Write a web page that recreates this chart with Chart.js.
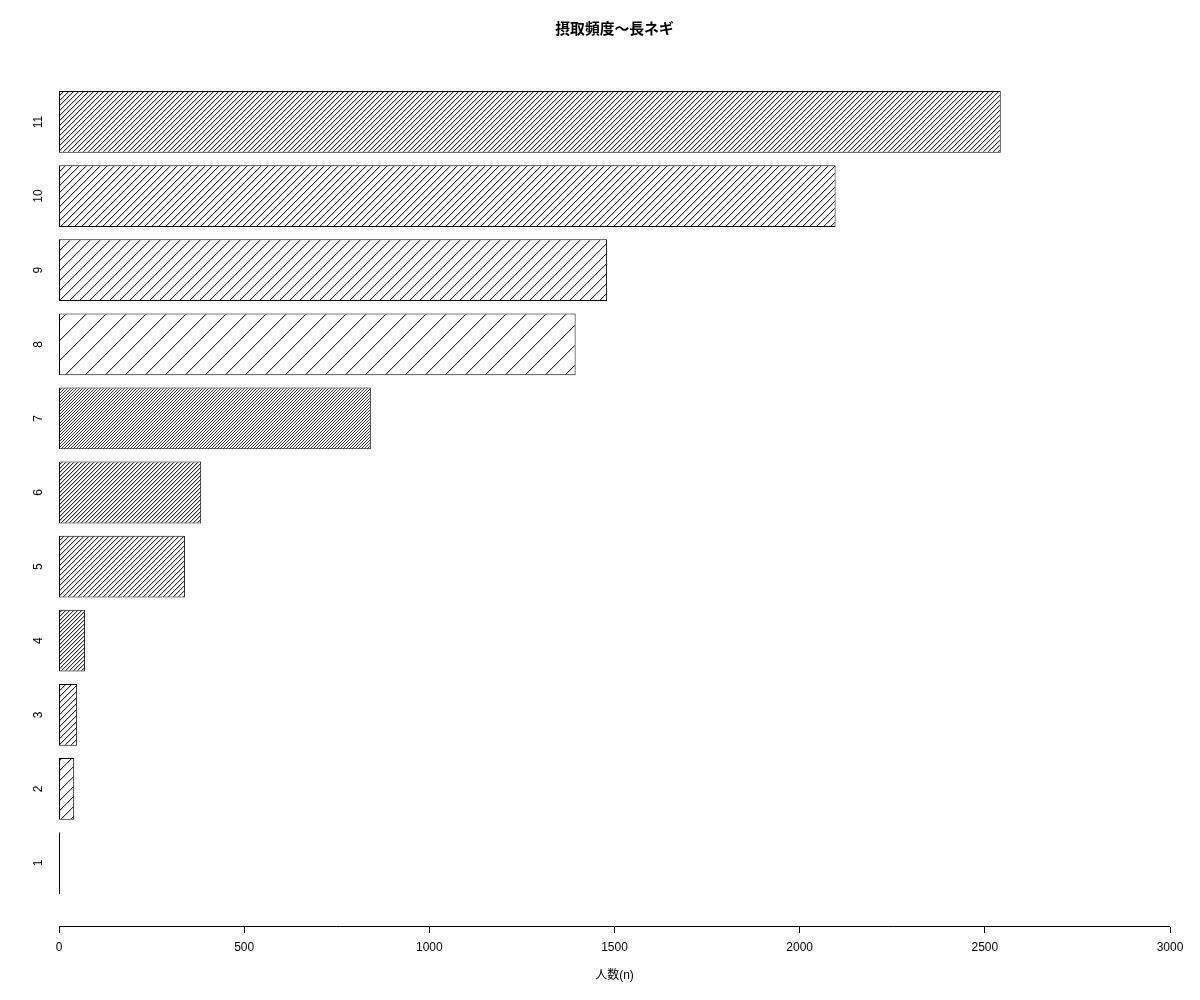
<!DOCTYPE html>
<html lang="ja">
<head>
  <meta charset="UTF-8">
  <title>摂取頻度〜長ネギ</title>
  <script src="https://cdn.jsdelivr.net/npm/chart.js"></script>
  <style>
    html, body {
      margin: 0;
      padding: 0;
      background: #ffffff;
    }
    #chart {
      display: block;
    }
  </style>
</head>
<body>
  <canvas id="chart" width="1200" height="1000"></canvas>

  <script>
    // Data
    const categories = ['1', '2', '3', '4', '5', '6', '7', '8', '9', '10', '11'];
    const counts = [1, 41, 49, 70, 340, 384, 842, 1395, 1480, 2097, 2543];
    const xTicks = [0, 500, 1000, 1500, 2000, 2500, 3000];

    const titleText = '摂取頻度〜長ネギ';
    const xLabel = '人数(n)';

    // hatch spacing (horizontal px between lines) per bar, bottom to top
    const hatchGap = [10, 10, 6, 4, 5, 4, 3, 20, 10, 7, 5];

    // barplot style layout: bar width 1, space 0.2
    const barWidth = 1;
    const barSpace = 0.2;
    const positions = categories.map((c, i) => barSpace + i * (barWidth + barSpace) + barWidth / 2);
    const yLow = barSpace;
    const yHigh = categories.length * (barWidth + barSpace);
    const yPad = (yHigh - yLow) * 0.04;

    // pixel staircase hatching, lines going up to the right
    function hatch(gap) {
      const c = document.createElement('canvas');
      c.width = gap;
      c.height = gap;
      const g = c.getContext('2d');
      const img = g.createImageData(gap, gap);
      for (let y = 0; y < gap; y++) {
        for (let x = 0; x < gap; x++) {
          const k = (y * gap + x) * 4;
          const r = (x + y) % gap;
          let v = 255;
          if (r === gap - 1) v = 50;
          else if (r === 0 && gap > 3) v = 200;
          img.data[k] = v;
          img.data[k + 1] = v;
          img.data[k + 2] = v;
          img.data[k + 3] = 255;
        }
      }
      g.putImageData(img, 0, 0);
      return g.createPattern(c, 'repeat');
    }
    const patterns = hatchGap.map(hatch);

    const font = "'Liberation Sans', Arial, sans-serif";
    const cjkFont = "'Liberation Sans', 'Noto Sans CJK JP', sans-serif";

    // title, rotated category names and the tick mark at zero
    const labelsPlugin = {
      id: 'labels',
      afterDraw(chart) {
        const ctx = chart.ctx;
        const xScale = chart.scales.x;
        const yScale = chart.scales.y;
        ctx.save();
        ctx.fillStyle = '#000000';
        ctx.font = `bold 14.8px ${cjkFont}`;
        ctx.textAlign = 'center';
        ctx.textBaseline = 'middle';
        ctx.fillText(titleText, (chart.chartArea.left + chart.chartArea.right) / 2, 30);

        ctx.font = `12px ${font}`;
        categories.forEach((name, i) => {
          const y = yScale.getPixelForValue(positions[i]);
          ctx.save();
          ctx.translate(38.5, y);
          ctx.rotate(-Math.PI / 2);
          ctx.fillText(name, 0, 0);
          ctx.restore();
        });

        // zero tick is hidden in the grid so the bars start flush at the axis
        const x0 = Math.round(xScale.getPixelForValue(0)) + 0.5;
        ctx.strokeStyle = '#000000';
        ctx.lineWidth = 1;
        ctx.beginPath();
        ctx.moveTo(x0, xScale.top);
        ctx.lineTo(x0, xScale.top + 7);
        ctx.stroke();
        ctx.restore();
      }
    };

    const ctx = document.getElementById('chart').getContext('2d');
    const chart = new Chart(ctx, {
      type: 'bar',
      data: {
        datasets: [{
          data: counts.map((v, i) => ({ x: v, y: positions[i] })),
          backgroundColor: patterns,
          borderColor: '#000000',
          borderWidth: 1,
          borderSkipped: false,
          inflateAmount: 0,
          minBarLength: 1,
          categoryPercentage: 1,
          barPercentage: barWidth / (barWidth + barSpace)
        }]
      },
      options: {
        indexAxis: 'y',
        responsive: false,
        animation: false,
        devicePixelRatio: 1,
        layout: {
          padding: { left: 59, right: 30, top: 59, bottom: 0 }
        },
        scales: {
          x: {
            type: 'linear',
            position: 'bottom',
            min: 0,
            max: 3000,
            afterBuildTicks(scale) {
              scale.ticks = xTicks.map(v => ({ value: v }));
            },
            afterFit(scale) {
              scale.height = 74;
            },
            ticks: {
              color: '#000000',
              font: { family: font, size: 12 },
              padding: 7,
              maxRotation: 0,
              autoSkip: false,
              callback: v => String(v)
            },
            grid: {
              drawOnChartArea: false,
              drawTicks: true,
              tickLength: 7,
              color: '#000000',
              lineWidth: c => (c.tick && c.tick.value === 0 ? 0 : 1)
            },
            border: {
              display: true,
              color: '#000000',
              width: 1
            },
            title: {
              display: true,
              text: xLabel,
              color: '#000000',
              font: { family: cjkFont, size: 12 },
              padding: { top: 4, bottom: 17 }
            }
          },
          y: {
            type: 'linear',
            display: false,
            offset: false,
            min: yLow - yPad,
            max: yHigh + yPad,
            afterBuildTicks(scale) {
              scale.ticks = positions.map(v => ({ value: v }));
            }
          }
        },
        plugins: {
          legend: { display: false },
          title: { display: false },
          tooltip: { enabled: false }
        }
      },
      plugins: [labelsPlugin]
    });
  </script>
</body>
</html>
